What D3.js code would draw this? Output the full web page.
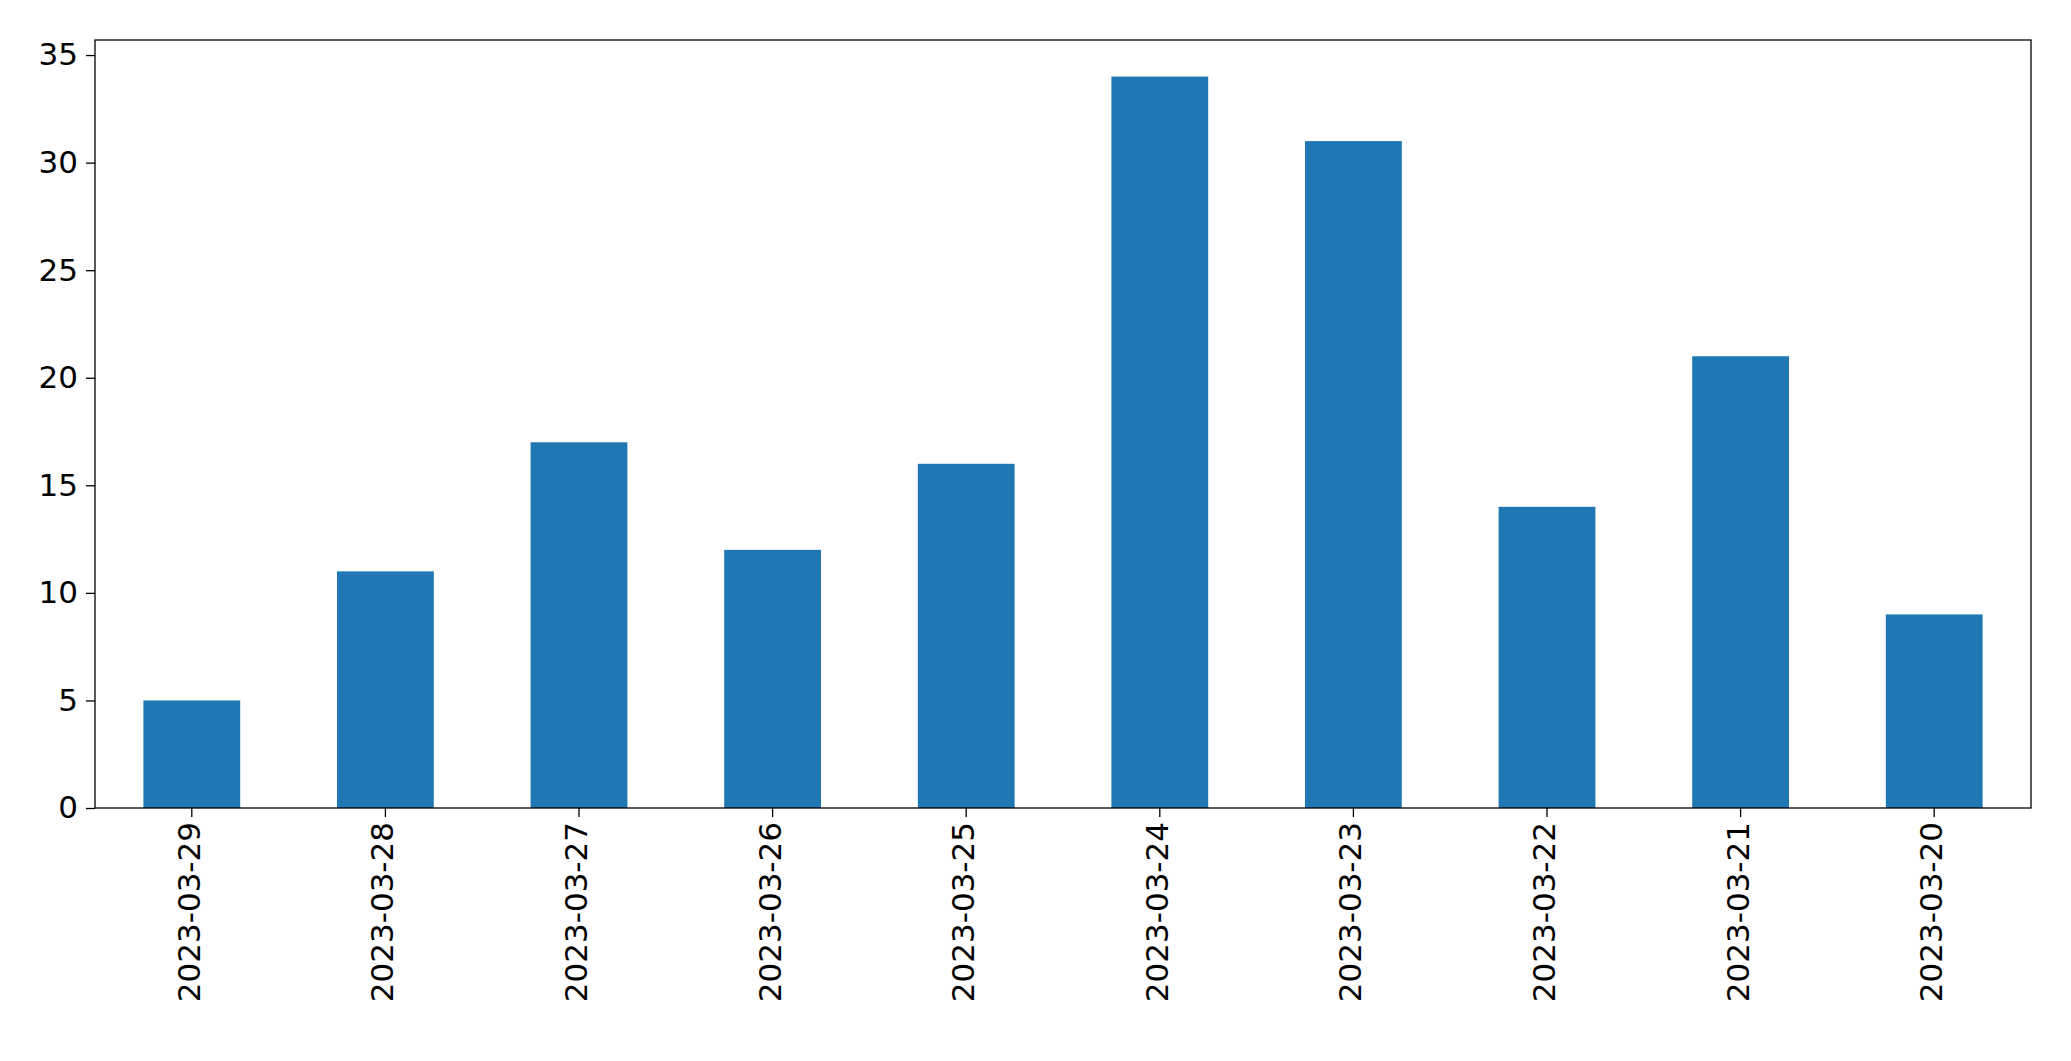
<!DOCTYPE html>
<html><head><meta charset="utf-8">
<script src="https://cdn.jsdelivr.net/npm/d3@7"></script>
<style>body{margin:0;background:#fff}svg{display:block}</style>
</head><body>
<script>
const categories = ["2023-03-29","2023-03-28","2023-03-27","2023-03-26","2023-03-25","2023-03-24","2023-03-23","2023-03-22","2023-03-21","2023-03-20"];
const values = [5,11,17,12,16,34,31,14,21,9];
const yTicks = [0,5,10,15,20,25,30,35];

const W=2071,H=1061;
const m={l:95,r:40,t:40,b:253};
const svg=d3.select("body").append("svg").attr("width",W).attr("height",H);
const x=d3.scaleBand().domain(categories).range([m.l,W-m.r]).paddingInner(0.5).paddingOuter(0.25);
const y=d3.scaleLinear().domain([0,35.7]).range([H-m.b,m.t]);
svg.selectAll("rect.bar").data(values).enter().append("rect")
  .attr("x",(d,i)=>x(categories[i])).attr("width",x.bandwidth())
  .attr("y",d=>y(d)).attr("height",d=>y(0)-y(d)).attr("fill","#1f77b4");
const font="DejaVu Sans";
const ya=svg.append("g").attr("transform",`translate(${m.l},0)`).call(d3.axisLeft(y).tickValues(yTicks).tickSize(9).tickPadding(8));
ya.select(".domain").remove();
ya.selectAll("text").attr("font-family",font).attr("font-size",31).attr("fill","#000");
ya.selectAll("line").attr("stroke","#000").attr("stroke-width",1.3);
const xa=svg.append("g").attr("transform",`translate(0,${H-m.b})`).call(d3.axisBottom(x).tickSize(9).tickPadding(8));
xa.select(".domain").remove();
xa.selectAll("line").attr("stroke","#000").attr("stroke-width",1.3);
xa.selectAll("text").attr("font-family",font).attr("font-size",31).attr("fill","#000")
  .attr("transform","rotate(-90)").attr("text-anchor","end").attr("dx","-14").attr("dy","-0.1em").attr("y",0).attr("x",0)
  .style("dominant-baseline","central");
svg.append("rect").attr("x",m.l).attr("y",m.t).attr("width",W-m.l-m.r).attr("height",H-m.t-m.b)
  .attr("fill","none").attr("stroke","#000").attr("stroke-width",1.3);
</script>
</body></html>
